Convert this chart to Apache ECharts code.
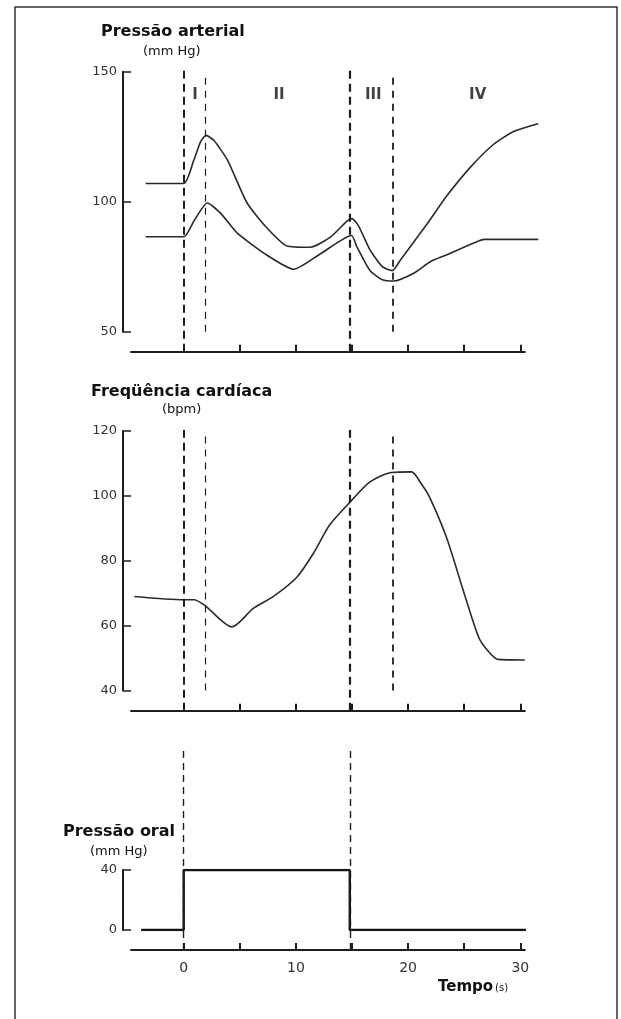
<!DOCTYPE html>
<html lang="pt">
<head>
<meta charset="utf-8">
<title>Pressão arterial, frequência cardíaca e pressão oral</title>
<script src="https://cdn.jsdelivr.net/npm/echarts@6.0.0/dist/echarts.min.js"></script>
<style>
  html, body { margin: 0; padding: 0; background: #fff; }
  #chart { width: 621px; height: 1019px; }
</style>
</head>
<body>
<div id="chart"></div>
<script>
// pressão arterial sistólica (curva de cima)
const sysTime = [-3.4, 0, 0.9, 1.5, 2.0, 2.7, 3.9, 5.65, 7.4, 9.2, 11.3, 13.1, 14.55, 15.0, 15.6, 16.6, 17.7, 18.6, 19.3, 21.7, 23.4, 25.6, 27.6, 29.4, 31.6];
const systolic = [107, 107, 116, 123, 125.5, 123.5, 116, 99.5, 90, 83, 82.5, 86.5, 92.5, 93.5, 90.5, 81.5, 75, 73.5, 77.5, 91.5, 102, 113.5, 122, 127, 130];

// pressão arterial diastólica (curva de baixo)
const diaTime = [-3.4, 0, 0.9, 2.1, 3.3, 4.75, 7.4, 9.8, 12.2, 14.95, 15.45, 16.6, 17.7, 18.7, 20.5, 22.0, 23.4, 25.8, 26.8, 31.6];
const diastolic = [86.5, 86.5, 92.5, 99.5, 95.5, 88, 79.5, 74, 80, 87, 82.5, 73.5, 70, 69.5, 72.5, 77, 79.5, 84, 85.5, 85.5];

// frequência cardíaca (bpm)
const hrTime = [-4.4, 0, 0.9, 1.85, 4.3, 6.2, 8.0, 10.1, 11.6, 13.0, 14.8, 16.6, 18.5, 20.3, 21.2, 21.9, 23.4, 24.9, 25.8, 26.4, 27.3, 28.0, 30.4];
const heartRate = [69, 68, 68, 66.3, 59.6, 65.3, 69, 75, 82.5, 91, 98, 104.3, 107.2, 107.4, 103.6, 99.7, 87.4, 71, 61.2, 55.6, 51.5, 49.6, 49.4];

// pressão oral (mm Hg), em degraus
const oralTime = [-3.8, 0, 14.8, 30.5];
const oralPressure = [0, 40, 0, 0];

// linhas tracejadas verticais e fases
const strainEdges = [0, 14.8];
const phaseEdges = [1.9, 18.6];
const phaseNames = ['I', 'II', 'III', 'IV'];
const phaseCenters = [1.0, 8.5, 16.9, 26.2];

// eixo do tempo
const timeTicks = [0, 5, 10, 15, 20, 25, 30];
const timeLabels = [0, 10, 20, 30];

const ink = '#1e1e1e';
const curve = { color: '#2a2a2a', width: 1.6 };
const pair = (xs, ys) => xs.map((x, i) => [x, ys[i]]);

// eixo y visível de cada painel
const valueAxis = (gridIndex, min, max, interval) => ({
  type: 'value', gridIndex, min, max, interval, offset: 8,
  axisLine: { show: true, onZero: false, lineStyle: { color: ink, width: 2 } },
  axisTick: { show: true, inside: true, length: 8, lineStyle: { color: ink, width: 1.5 } },
  axisLabel: { margin: 6, color: '#333', fontSize: 13, fontFamily: 'DejaVu Sans' },
  splitLine: { show: false }
});
const hiddenY = gridIndex => ({ type: 'value', gridIndex, min: 0, max: 1, show: false });

// eixo x só para os dados (vai até ~31.8 s) e eixo x desenhado (até 30.4 s)
const dataX = gridIndex => ({ type: 'value', gridIndex, min: -4.7, max: 31.8, show: false });
const timeAxis = (gridIndex, withLabels) => ({
  type: 'value', gridIndex, min: -4.7, max: 30.4,
  axisLine: { show: true, onZero: false, lineStyle: { color: ink, width: 2 } },
  axisTick: { show: true, inside: true, length: 7, customValues: timeTicks, lineStyle: { color: ink, width: 2 } },
  axisLabel: { show: withLabels, customValues: timeLabels, margin: 11, color: '#333', fontSize: 14, fontFamily: 'DejaVu Sans' },
  splitLine: { show: false }
});

// widths: uma espessura por linha tracejada
const dashLines = (values, widths, dash) => ({
  silent: true,
  symbol: ['none', 'none'],
  label: { show: false },
  emphasis: { disabled: true },
  lineStyle: { color: ink, type: dash, opacity: 1 },
  data: values.map((v, i) => ({ xAxis: v, lineStyle: { width: widths[i] } }))
});

const titleText = (text, x, y, size, bold) => ({
  type: 'text', x, y, silent: true,
  style: {
    text, fill: '#111', verticalAlign: 'middle', align: 'left',
    font: (bold ? 'bold ' : '') + size + 'px "DejaVu Sans"'
  }
});

const chart = echarts.init(document.getElementById('chart'));

const option = {
  animation: false,
  backgroundColor: '#fff',
  grid: [
    { left: 131, top: 71.7, width: 409.5, height: 260 },   // 0 pressão arterial
    { left: 131, top: 70, width: 393.8, height: 281.7 },   // 1 eixo tempo painel 1
    { left: 131, top: 431, width: 409.5, height: 259.5 },  // 2 frequência cardíaca
    { left: 131, top: 430, width: 393.8, height: 280.7 },  // 3 eixo tempo painel 2
    { left: 131, top: 870, width: 409.5, height: 60 },     // 4 pressão oral
    { left: 131, top: 747, width: 393.8, height: 203 }     // 5 eixo tempo painel 3
  ],
  xAxis: [dataX(0), timeAxis(1, false), dataX(2), timeAxis(3, false), dataX(4), timeAxis(5, true)],
  yAxis: [
    valueAxis(0, 50, 150, 50), hiddenY(1),
    valueAxis(2, 40, 120, 20), hiddenY(3),
    valueAxis(4, 0, 40, 40), hiddenY(5)
  ],
  graphic: [
    { type: 'rect', silent: true, shape: { x: 15, y: 7, width: 602, height: 1040 },
      style: { fill: 'none', stroke: '#333', lineWidth: 1.5 } },
    titleText('Pressão arterial', 101, 31.5, 16, true),
    titleText('(mm Hg)', 143, 52, 13, false),
    titleText('Freqüência cardíaca', 91, 391.5, 16, true),
    titleText('(bpm)', 162, 410, 13, false),
    titleText('Pressão oral', 63, 831.5, 16, true),
    titleText('(mm Hg)', 90, 851.5, 13, false),
    {
      type: 'text', x: 438, y: 987, silent: true,
      style: {
        text: '{a|Tempo}{b|(s)}', fill: '#111', verticalAlign: 'middle',
        rich: {
          a: { font: 'bold 15px "DejaVu Sans"', fill: '#111' },
          b: { font: '10px "DejaVu Sans"', fill: '#111', padding: [3, 0, 0, 2] }
        }
      }
    }
  ],
  series: [
    {
      name: 'Sistólica', type: 'line', xAxisIndex: 0, yAxisIndex: 0,
      data: pair(sysTime, systolic), showSymbol: false, smooth: 0.2,
      lineStyle: curve,
      markLine: dashLines(phaseEdges, [1.2, 1.8], [7, 6])
    },
    {
      name: 'Diastólica', type: 'line', xAxisIndex: 0, yAxisIndex: 0,
      data: pair(diaTime, diastolic), showSymbol: false, smooth: 0.2,
      lineStyle: curve
    },
    {
      name: 'Fases', type: 'scatter', xAxisIndex: 0, yAxisIndex: 0, silent: true,
      symbolSize: 1, itemStyle: { color: 'rgba(0,0,0,0)' },
      data: phaseNames.map((n, i) => ({ name: n, value: [phaseCenters[i], 141] })),
      label: {
        show: true, position: 'inside', formatter: '{b}', color: '#111',
        fontFamily: 'DejaVu Sans', fontWeight: 'bold', fontSize: 15
      }
    },
    {
      type: 'line', xAxisIndex: 1, yAxisIndex: 1, data: [],
      markLine: dashLines(strainEdges, [2, 2.2], [8, 5])
    },
    {
      name: 'Frequência cardíaca', type: 'line', xAxisIndex: 2, yAxisIndex: 2,
      data: pair(hrTime, heartRate), showSymbol: false, smooth: 0.25,
      lineStyle: curve,
      markLine: dashLines(phaseEdges, [1.2, 1.8], [7, 6])
    },
    {
      type: 'line', xAxisIndex: 3, yAxisIndex: 3, data: [],
      markLine: dashLines(strainEdges, [2, 2.2], [8, 5])
    },
    {
      name: 'Pressão oral', type: 'line', xAxisIndex: 4, yAxisIndex: 4,
      data: pair(oralTime, oralPressure), showSymbol: false, step: 'end',
      lineStyle: { color: '#151515', width: 2.4 }
    },
    {
      type: 'line', xAxisIndex: 5, yAxisIndex: 5, data: [],
      markLine: dashLines(strainEdges, [1.4, 1.4], [7, 5])
    }
  ]
};

chart.setOption(option);

window.addEventListener('resize', () => chart.resize());
</script>
</body>
</html>
